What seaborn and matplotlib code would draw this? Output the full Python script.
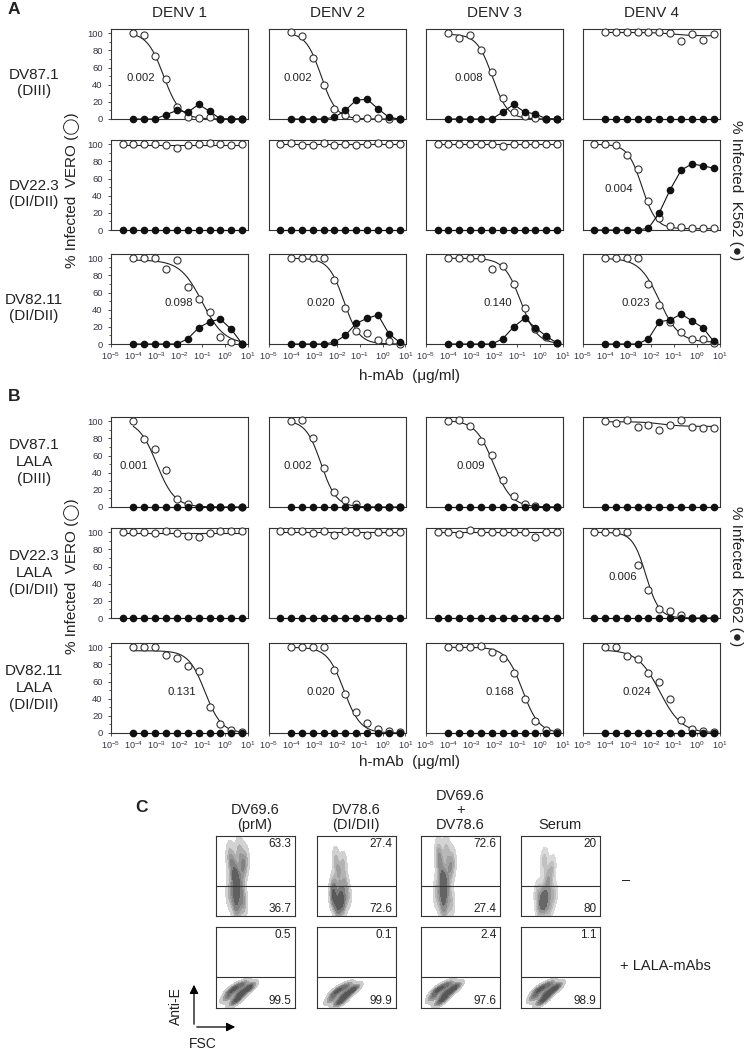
import numpy as np
import pandas as pd
import matplotlib.pyplot as plt
import seaborn as sns

nan = np.nan

# antibody concentrations (ug/ml), 3-fold dilutions
conc = [3.2e-5, 9.5e-5, 2.8e-4, 8.5e-4, 2.6e-3, 7.7e-3, 0.023, 0.069, 0.21, 0.62, 1.87, 5.6]
serotypes = ['DENV 1', 'DENV 2', 'DENV 3', 'DENV 4']
zeros = [0] * 12

# ---------------- panel A (wild type mAbs) ----------------
a_rows = ['DV87.1\n(DIII)', 'DV22.3\n(DI/DII)', 'DV82.11\n(DI/DII)']

a871_vero = [
    [nan, 100, 98, 74, 47, 14, 2, 1, 2, 0, 0, 0],
    [nan, 101, 97, 71, 40, 12, 5, 1, 1, 1, 0, 0],
    [nan, 100, 94, 98, 81, 55, 24, 8, 3, 1, 0, 0],
    [nan, 101, 101, 101, 101, 101, 101, 100, 91, 99, 92, 99],
]
a871_k562 = [
    [nan, 0, 0, 0, 5, 10, 8, 17, 9, 0, 0, 0],
    [nan, 0, 0, 0, 0, 2, 10, 22, 23, 12, 2, 0],
    [nan, 0, 0, 0, 0, 0, 8, 17, 8, 6, 0, 0],
    [nan, 0, 0, 0, 0, 0, 0, 0, 0, 0, 0, 0],
]
a871_fit = [(101, 0, 1.2), (101, 0, 1.3), (99, 0, 1.3), (101, 97, 1.0)]
a871_ic50 = [0.002, 0.002, 0.008, 0.1]
a871_text = ['0.002', '0.002', '0.008', '']

a223_vero = [
    [100, 100, 100, 100, 99, 96, 99, 100, 101, 100, 99, 100],
    [100, 101, 99, 99, 101, 99, 100, 99, 100, 101, 100, 100],
    [100, 100, 100, 100, 100, 100, 98, 100, 100, 100, 100, 100],
    [100, 100, 99, 88, 71, 34, 14, 5, 3, 2, 2, 2],
]
a223_k562 = [zeros, zeros, zeros, [0, 0, 0, 0, 0, 2, 20, 47, 70, 77, 75, 72]]
a223_fit = [(99.5, 99.5, 1.0), (100, 100, 1.0), (100, 100, 1.0), (100, 1.5, 1.4)]
a223_ic50 = [0.01, 0.01, 0.01, 0.004]
a223_text = ['', '', '', '0.004']

a8211_vero = [
    [nan, 100, 100, 100, 88, 98, 67, 53, 37, 8, 2, 0],
    [nan, 100, 100, 100, 100, 75, 42, 15, 13, 5, 4, 0],
    [nan, 100, 100, 100, 100, 88, 91, 70, 42, 17, 8, 1],
    [nan, 100, 100, 100, 100, 70, 45, 26, 14, 6, 6, 1],
]
a8211_k562 = [
    [nan, 0, 0, 0, 0, 0, 6, 19, 26, 29, 17, 0],
    [nan, 0, 0, 0, 0, 2, 10, 24, 30, 34, 12, 2],
    [nan, 0, 0, 0, 0, 0, 6, 20, 30, 19, 9, 1],
    [nan, 0, 0, 0, 0, 6, 26, 28, 35, 27, 19, 3],
]
a8211_fit = [(98, 0, 0.9), (100, 0, 1.3), (100, 0, 1.2), (100, 2, 1.0)]
a8211_ic50 = [0.098, 0.020, 0.140, 0.023]
a8211_text = ['0.098', '0.020', '0.140', '0.023']

# ---------------- panel B (LALA mAbs) ----------------
b_rows = ['DV87.1\nLALA\n(DIII)', 'DV22.3\nLALA\n(DI/DII)', 'DV82.11\nLALA\n(DI/DII)']

b871_vero = [
    [nan, 100, 79, 68, 43, 9, 3, 0, 0, 0, 0, 0],
    [nan, 100, 101, 80, 45, 18, 8, 3, 0, 0, 0, 0],
    [nan, 100, 101, 94, 77, 61, 31, 13, 4, 1, 0, 0],
    [nan, 100, 98, 101, 93, 96, 90, 96, 101, 93, 92, 92],
]
b871_fit = [(101, 0, 1.1), (101, 0, 1.3), (101, 0, 1.1), (99.5, 94, 1.0)]
b871_ic50 = [0.001, 0.002, 0.009, 0.03]
b871_text = ['0.001', '0.002', '0.009', '']

b223_vero = [
    [100, 100, 100, 99, 101, 99, 96, 94, 99, 101, 101, 101],
    [101, 101, 101, 99, 102, 97, 101, 100, 97, 100, 100, 100],
    [100, 100, 98, 103, 100, 100, 100, 100, 100, 95, 100, 100],
    [100, 100, 100, 100, 62, 33, 11, 8, 3, 0, 0, 0],
]
b223_fit = [(99.5, 99.5, 1.0), (100, 100, 1.0), (100, 100, 1.0), (100, 0, 1.5)]
b223_ic50 = [0.01, 0.01, 0.01, 0.006]
b223_text = ['', '', '', '0.006']

b8211_vero = [
    [nan, 100, 100, 100, 91, 88, 78, 72, 30, 10, 3, 1],
    [nan, 100, 100, 100, 100, 73, 45, 25, 12, 5, 2, 1],
    [nan, 100, 100, 100, 101, 94, 88, 70, 40, 14, 4, 1],
    [nan, 100, 100, 90, 86, 70, 60, 40, 15, 5, 2, 1],
]
b8211_fit = [(96, 0, 1.2), (100, 0, 1.2), (100, 0, 1.2), (97, 0, 0.9)]
b8211_ic50 = [0.131, 0.020, 0.168, 0.024]
b8211_text = ['0.131', '0.020', '0.168', '0.024']

# ---------------- panel C (flow cytometry) ----------------
c_titles = ['DV69.6\n(prM)', 'DV78.6\n(DI/DII)', 'DV69.6\n+\nDV78.6', 'Serum']
c_top_hi = ['63.3', '27.4', '72.6', '20']
c_top_lo = ['36.7', '72.6', '27.4', '80']
c_bot_hi = ['0.5', '0.1', '2.4', '1.1']
c_bot_lo = ['99.5', '99.9', '97.6', '98.9']
c_gate = [0.37, 0.38]
# cloud outlines (FSC, anti-E, in box units)
fsc_top = [
    [0.18, 0.30, 0.38, 0.22, 0.34, 0.26, 0.18, 0.32, 0.24, 0.36, 0.28, 0.26],
    [0.24, 0.34, 0.28, 0.22, 0.36, 0.20, 0.30, 0.40, 0.26, 0.34, 0.28, 0.22, 0.32],
    [0.22, 0.32, 0.40, 0.24, 0.36, 0.28, 0.20, 0.32, 0.26, 0.38, 0.30, 0.28],
    [0.30, 0.40, 0.34, 0.22, 0.36, 0.28, 0.42, 0.30, 0.24, 0.36, 0.30],
]
antie_top = [
    [0.75, 0.82, 0.70, 0.62, 0.58, 0.48, 0.30, 0.30, 0.18, 0.15, 0.07, 0.40],
    [0.72, 0.66, 0.55, 0.40, 0.42, 0.28, 0.30, 0.25, 0.15, 0.12, 0.06, 0.20, 0.22],
    [0.80, 0.82, 0.68, 0.64, 0.56, 0.46, 0.30, 0.32, 0.18, 0.16, 0.07, 0.40],
    [0.70, 0.60, 0.48, 0.30, 0.32, 0.24, 0.26, 0.14, 0.10, 0.08, 0.20],
]
fsc_bot = [
    [0.14, 0.22, 0.30, 0.40, 0.46, 0.36, 0.26, 0.18, 0.30],
    [0.18, 0.26, 0.34, 0.44, 0.50, 0.40, 0.30, 0.22, 0.34],
    [0.14, 0.22, 0.30, 0.40, 0.46, 0.36, 0.26, 0.18, 0.30],
    [0.16, 0.24, 0.32, 0.42, 0.48, 0.38, 0.28, 0.20, 0.32],
]
antie_bot = [
    [0.12, 0.06, 0.12, 0.22, 0.28, 0.30, 0.26, 0.20, 0.18],
    [0.10, 0.05, 0.10, 0.20, 0.26, 0.28, 0.24, 0.18, 0.16],
    [0.12, 0.06, 0.12, 0.22, 0.28, 0.30, 0.26, 0.20, 0.18],
    [0.12, 0.06, 0.12, 0.22, 0.28, 0.30, 0.26, 0.20, 0.18],
]

# ---------------- drawing ----------------
sns.set_style('ticks')
plt.rcParams['font.family'] = ['Liberation Sans', 'DejaVu Sans']
plt.rcParams['text.color'] = '#222222'

W, H = 744, 1050
fig = plt.figure(figsize=(W / 100, H / 100), dpi=100)


def add_box(left, top, w, h):
    return fig.add_axes([left / W, 1 - (top + h) / H, w / W, h / H])


def ftext(x, y, s, **kw):
    fig.text(x / W, 1 - y / H, s, **kw)


col_left = [111, 268.5, 426, 582.5]
col_w, row_h = 137, 90


def dose_panel(ax, vero, k562, fit, ic50, label, first_col, last_row):
    ax.set_xscale('log')
    df = pd.DataFrame({'conc': conc, 'vero': vero, 'k562': k562})
    pts = df.dropna(subset=['vero'])
    top, bottom, hill = fit
    xx = np.logspace(np.log10(pts.conc.min()), np.log10(pts.conc.max()), 200)
    yy = bottom + (top - bottom) / (1 + (xx / ic50) ** hill)
    sns.lineplot(x=xx, y=yy, color='#222222', lw=0.8, ax=ax)
    kk = df.dropna(subset=['k562'])
    sns.lineplot(data=kk, x='conc', y='k562', color='#111111', lw=0.8, marker='o',
                 markersize=5.5, markeredgewidth=0, ax=ax, zorder=4, clip_on=False)
    sns.scatterplot(data=pts, x='conc', y='vero', s=26, color='white', edgecolor='#333333',
                    linewidth=0.8, ax=ax, zorder=3, clip_on=False)
    if label:
        ax.text(ic50 / 10 ** 0.38, 48, label, ha='right', va='center', fontsize=8.2)
    ax.set_xlim(1e-5, 10)
    ax.set_ylim(0, 105)
    ax.set_xlabel('')
    ax.set_ylabel('')
    for s in ax.spines.values():
        s.set_linewidth(0.8)
        s.set_color('#333333')
    if first_col:
        ax.set_yticks([0, 20, 40, 60, 80, 100])
        ax.set_yticks([10, 30, 50, 70, 90], minor=True)
        ax.tick_params(axis='y', labelsize=6.8, length=2.5, width=0.6, colors='#333344')
        ax.tick_params(axis='y', which='minor', length=1.5, width=0.5)
    else:
        ax.set_yticks([])
        ax.set_yticks([], minor=True)
    if last_row:
        ax.set_xticks([1e-5, 1e-4, 1e-3, 1e-2, 1e-1, 1e0, 1e1])
        ax.tick_params(axis='x', labelsize=6.5, length=2.5, width=0.6, colors='#333344', pad=2)
        ax.tick_params(axis='x', which='minor', length=1.5, width=0.5)
    else:
        ax.tick_params(axis='x', which='both', bottom=False, labelbottom=False)


groups = [
    ([29, 140, 254], a_rows,
     [a871_vero, a223_vero, a8211_vero], [a871_k562, a223_k562, a8211_k562],
     [a871_fit, a223_fit, a8211_fit], [a871_ic50, a223_ic50, a8211_ic50],
     [a871_text, a223_text, a8211_text], 9),
    ([417, 528, 643], b_rows,
     [b871_vero, b223_vero, b8211_vero], [None, None, None],
     [b871_fit, b223_fit, b8211_fit], [b871_ic50, b223_ic50, b8211_ic50],
     [b871_text, b223_text, b8211_text], 0),
]

for tops, rlabels, veros, k562s, fits, ic50s, texts, lab_shift in groups:
    for r in range(3):
        for c in range(4):
            ax = add_box(col_left[c], tops[r], col_w, row_h)
            vero = veros[r][c]
            if k562s[r] is None:
                k562 = [0 if not np.isnan(v) else nan for v in vero]
            else:
                k562 = k562s[r][c]
            dose_panel(ax, vero, k562, fits[r][c], ic50s[r][c], texts[r][c],
                       c == 0, r == 2)
        ftext(34, tops[r] + row_h / 2 + lab_shift, rlabels[r], ha='center', va='center',
              fontsize=11, linespacing=1.25)

# column titles, axis titles, panel letters
for c in range(4):
    ftext(col_left[c] + col_w / 2, 13, serotypes[c], ha='center', va='center', fontsize=11)

for y0, yb in [(190, 376), (576, 762)]:
    ftext(72, y0, '% Infected  VERO (\u25ef)', rotation=90, ha='center', va='center', fontsize=11)
    ftext(736, y0, '% Infected  K562 (\u25cf)', rotation=270, ha='center', va='center', fontsize=11)
    ftext(410, yb, 'h-mAb  (\u03bcg/ml)', ha='center', va='center', fontsize=11)

ftext(8, 10, 'A', ha='left', va='center', fontsize=12.5, fontweight='bold')
ftext(8, 396, 'B', ha='left', va='center', fontsize=12.5, fontweight='bold')
ftext(135, 807, 'C', ha='left', va='center', fontsize=12.5, fontweight='bold')

# ---------------- panel C drawing ----------------
c_left = [215.5, 316.5, 421, 520.5]
c_w = 79
c_tops = [836, 927]
c_h = 80
flow_cmap = sns.blend_palette(['#e6e6e6', '#9a9a9a', '#4a4a4a'], as_cmap=True)


def flow_panel(ax, fx, fy, gate, hi, lo):
    sns.kdeplot(x=fx, y=fy, fill=True, cmap=flow_cmap, levels=6, thresh=0.08,
                bw_adjust=0.8, ax=ax)
    ax.axhline(gate, color='#333333', lw=0.8)
    ax.set_xlim(0, 1)
    ax.set_ylim(0, 1)
    ax.set_xticks([])
    ax.set_yticks([])
    for s in ax.spines.values():
        s.set_linewidth(0.8)
        s.set_color('#333333')
    ax.text(0.96, 0.9, hi, ha='right', va='center', fontsize=8.5, transform=ax.transAxes)
    ax.text(0.96, 0.09, lo, ha='right', va='center', fontsize=8.5, transform=ax.transAxes)


for c in range(4):
    ax = add_box(c_left[c], c_tops[0], c_w, c_h)
    flow_panel(ax, fsc_top[c], antie_top[c], c_gate[0], c_top_hi[c], c_top_lo[c])
    ax = add_box(c_left[c], c_tops[1], c_w, c_h + 1)
    flow_panel(ax, fsc_bot[c], antie_bot[c], c_gate[1], c_bot_hi[c], c_bot_lo[c])
    ftext(c_left[c] + c_w / 2, 832, c_titles[c], ha='center', va='bottom',
          fontsize=10.5, linespacing=1.05)

ftext(622, 880, '\u2013', ha='left', va='center', fontsize=10.5)
ftext(620, 966, '+ LALA-mAbs', ha='left', va='center', fontsize=10.5)

arrow = dict(arrowstyle='-|>', color='black', lw=0.9, mutation_scale=13)
fig.add_artist(plt.matplotlib.patches.FancyArrowPatch(
    (194 / W, 1 - 1027 / H), (194 / W, 1 - 982 / H), transform=fig.transFigure, **arrow))
fig.add_artist(plt.matplotlib.patches.FancyArrowPatch(
    (194 / W, 1 - 1027 / H), (238 / W, 1 - 1027 / H), transform=fig.transFigure, **arrow))
ftext(176, 1006, 'Anti-E', rotation=90, ha='center', va='center', fontsize=10)
ftext(203, 1044, 'FSC', ha='center', va='center', fontsize=10)

fig.savefig('out.png', dpi=100)
